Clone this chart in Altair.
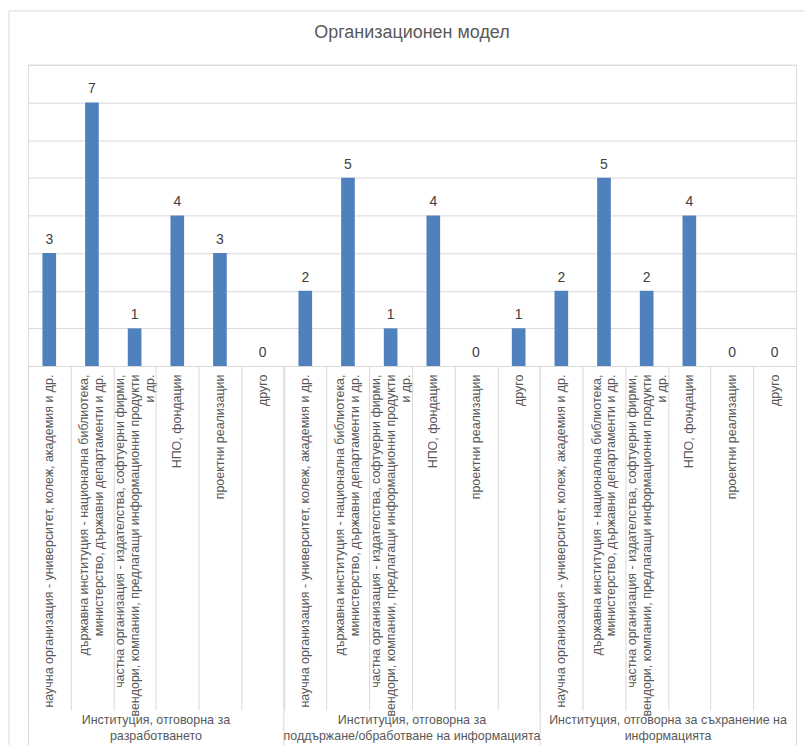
import json

import altair as alt
import pandas as pd

FONT = "Liberation Sans"
TEXT_GREY = "#595959"
LINE_GREY = "#d9d9d9"
BAR_BLUE = "#4f81bd"

title_text = "Организационен модел"

group_labels = [
    ["Институция, отговорна за", "разработването"],
    ["Институция, отговорна за", "поддържане/обработване на информацията"],
    ["Институция, отговорна за съхранение на", "информацията"],
]

# Category names, already broken into display lines
category_lines = [
    ["научна организация - университет, колеж, академия и др."],
    ["държавна институция - национална библиотека,",
     "министерство, държавни департаменти и др."],
    ["частна организация - издателства, софтуерни фирми,",
     "вендори, компании, предлагащи информационни продукти",
     "и др."],
    ["НПО, фондации"],
    ["проектни реализации"],
    ["друго"],
]

values_development = [3, 7, 1, 4, 3, 0]
values_maintenance = [2, 5, 1, 4, 0, 1]
values_storage = [2, 5, 2, 4, 0, 0]

group_values = [values_development, values_maintenance, values_storage]

rows = []
for g, vals in enumerate(group_values):
    for lines, v in zip(category_lines, vals):
        rows.append({"key": f"{g}|" + "\n".join(lines), "value": v})
df = pd.DataFrame(rows)
keys = list(df["key"])

W, H = 770, 302
step = W / len(keys)
LABEL_LH = 15

x_scale = alt.Scale(paddingInner=0, paddingOuter=0)
y_enc = alt.Y(
    "value:Q",
    scale=alt.Scale(domain=[0, 8], nice=False),
    axis=alt.Axis(title=None, labels=False, ticks=False, domain=False,
                  grid=True, gridColor=LINE_GREY, gridWidth=1,
                  values=list(range(9))),
)

# Rotated multi-line labels stack to the right; shift each block back so it
# stays centred on its bar.
line_count = "length(split(datum.value, '\\n'))"
label_offset = {
    "condition": [
        {"test": f"{line_count} == 3", "value": -LABEL_LH},
        {"test": f"{line_count} == 2", "value": -LABEL_LH / 2},
    ],
    "value": 0,
}

base = alt.Chart(df)

# Bars with the category names underneath
bars = base.mark_bar(color=BAR_BLUE, width=alt.RelativeBandSize(0.32)).encode(
    x=alt.X("key:N", sort=keys, scale=x_scale,
            axis=alt.Axis(title=None, orient="bottom", ticks=False, domain=False,
                          grid=False, labelAngle=270, labelAlign="right",
                          labelBaseline="middle", labelPadding=8,
                          labelOffset=label_offset,
                          labelFont=FONT, labelFontSize=12.5, labelColor=TEXT_GREY,
                          labelLineHeight=LABEL_LH, labelLimit=500,
                          labelOverlap=False,
                          labelExpr="split(split(datum.label, '|')[1], '\\n')")),
    y=y_enc,
)

# Value labels above the bars; their axis draws the category dividers
value_text = base.mark_text(dy=-9, baseline="alphabetic", fontSize=14,
                            color="#404040", font=FONT).encode(
    x=alt.X("key:N", sort=keys, scale=x_scale,
            axis=alt.Axis(title=None, orient="bottom", labels=False, domain=False,
                          grid=False, tickBand="extent", tickSize=345,
                          tickColor=LINE_GREY, tickWidth=1)),
    y=y_enc,
    text=alt.Text("value:Q"),
)

group_expr = json.dumps(group_labels, ensure_ascii=False) + \
    "[toNumber(split(datum.value, '|')[0])]"

# Group captions and the long group dividers
groups = base.mark_bar(opacity=0).encode(
    x=alt.X("key:N", sort=keys, scale=x_scale,
            axis=alt.Axis(title=None, orient="bottom", domain=False, grid=False,
                          values=[keys[0], keys[6], keys[12]], bandPosition=0,
                          tickSize=380, tickColor=LINE_GREY, tickWidth=1,
                          labelAngle=0, labelAlign="center", labelBaseline="top",
                          labelOffset=2.5 * step, labelPadding=-32,
                          labelFont=FONT, labelFontSize=12.5, labelColor=TEXT_GREY,
                          labelLineHeight=16, labelLimit=500, labelOverlap=False,
                          labelExpr=group_expr)),
    y=y_enc,
)

right_edge = base.mark_bar(opacity=0).encode(
    x=alt.X("key:N", sort=keys, scale=x_scale,
            axis=alt.Axis(title=None, orient="bottom", domain=False, grid=False,
                          labels=False, values=[keys[-1]], bandPosition=1,
                          tickSize=380, tickColor=LINE_GREY, tickWidth=1)),
    y=y_enc,
)

# Outer chart frame (top and left edges)
frame_top = alt.Chart(alt.Data(values=[{}])).mark_rule(color=LINE_GREY).encode(
    x=alt.value(-19), x2=alt.value(W + 8), y=alt.value(-54))
frame_left = alt.Chart(alt.Data(values=[{}])).mark_rule(color=LINE_GREY).encode(
    x=alt.value(-19), y=alt.value(-54), y2=alt.value(H + 380))

chart = (
    alt.layer(bars, value_text, groups, right_edge, frame_top, frame_left)
    .resolve_axis(x="independent")
    .properties(
        width=W,
        height=H,
        padding={"left": 8, "top": 9, "right": 0, "bottom": 0},
        title=alt.Title(title_text, frame="group", anchor="middle",
                        baseline="alphabetic", offset=-45.5, font=FONT,
                        fontSize=18, fontWeight="normal", color=TEXT_GREY),
    )
    .configure_view(stroke=None)
    .configure(background="white")
)

chart.save("out.html", embed_options={"renderer": "svg", "actions": False})
